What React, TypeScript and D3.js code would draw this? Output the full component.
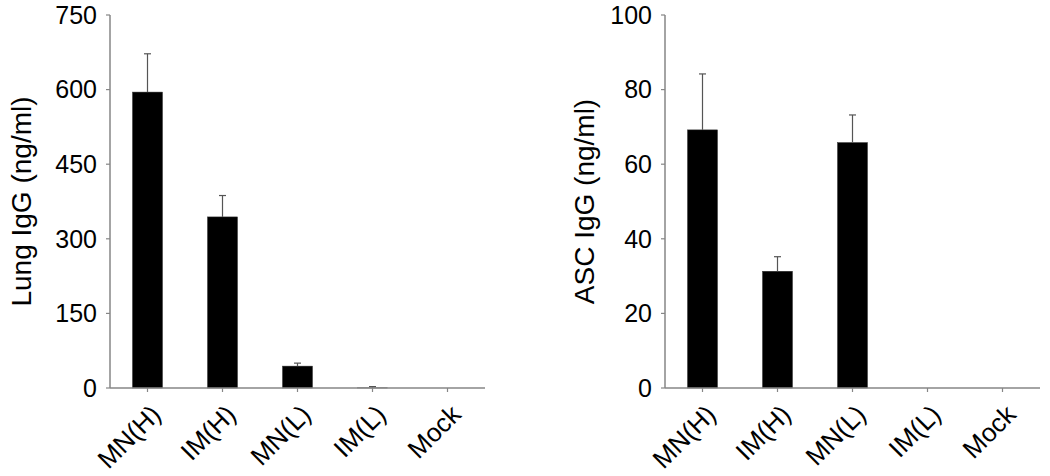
import React from 'react';
import * as d3 from 'd3';

const categories = ['MN(H)', 'IM(H)', 'MN(L)', 'IM(L)', 'Mock'];

const lungIgG = [595, 344, 44, 0.3, 0];
const lungErr = [77, 43, 6, 2.5, 0];
const lungTicks = [0, 150, 300, 450, 600, 750];

const ascIgG = [69.2, 31.3, 65.8, 0, 0];
const ascErr = [15, 3.9, 7.4, 0, 0];
const ascTicks = [0, 20, 40, 60, 80, 100];

const FONT = 'Liberation Sans, Arial, sans-serif';
const AXIS = '#868686';

type PanelProps = {
  left: number;
  values: number[];
  errors: number[];
  ticks: number[];
  title: string;
  titleX: number;
};

function Panel({ left, values, errors, ticks, title, titleX }: PanelProps) {
  const top = 15, bottom = 388, w = 375;
  const x = d3.scaleBand<string>().domain(categories).range([left, left + w]).paddingInner(0.6).paddingOuter(0.3);
  const y = d3.scaleLinear().domain([0, ticks[ticks.length - 1]]).range([bottom, top]);
  const bw = x.bandwidth();

  return (
    <g>
      {/* bars */}
      {values.map((v, i) => {
        const bx = x(categories[i])!;
        return (
          <rect key={'b' + i} x={bx} y={y(v)} width={bw} height={bottom - y(v)}
            fill="#000" stroke="#333" strokeWidth={0.5} />
        );
      })}
      {/* error bars, upper only */}
      {values.map((v, i) => {
        if (errors[i] <= 0) return null;
        const cx = x(categories[i])! + bw / 2;
        return (
          <g key={'e' + i} stroke="#555" strokeWidth={1.2}>
            <line x1={cx} x2={cx} y1={y(v)} y2={y(v + errors[i])} />
            <line x1={cx - 3.5} x2={cx + 3.5} y1={y(v + errors[i])} y2={y(v + errors[i])} />
          </g>
        );
      })}
      {/* y axis */}
      <line x1={left} x2={left} y1={top} y2={bottom} stroke={AXIS} strokeWidth={1.5} />
      {ticks.map(t => (
        <g key={'t' + t}>
          <line x1={left - 4} x2={left} y1={y(t)} y2={y(t)} stroke={AXIS} strokeWidth={1.2} />
          <text x={left - 13} y={y(t)} dy="0.35em" textAnchor="end" fontSize={25} fontFamily={FONT} fill="#000">{t}</text>
        </g>
      ))}
      {/* x axis */}
      <line x1={left} x2={left + w} y1={bottom} y2={bottom} stroke={AXIS} strokeWidth={1.5} />
      {categories.map(c => {
        const cx = x(c)! + bw / 2;
        return (
          <g key={'c' + c}>
            <line x1={cx} x2={cx} y1={bottom} y2={bottom + 4} stroke={AXIS} strokeWidth={1.2} />
            <text transform={`translate(${cx + 15},${bottom + 28}) rotate(-45)`} textAnchor="end"
              fontSize={26} fontFamily={FONT} fill="#000">{c}</text>
          </g>
        );
      })}
      <text transform={`translate(${titleX},${(top + bottom) / 2}) rotate(-90)`} textAnchor="middle"
        fontSize={28} fontFamily={FONT} fill="#000">{title}</text>
    </g>
  );
}

export default function App() {
  return (
    <svg width={1050} height={476} style={{ display: 'block', position: 'absolute', left: 0, top: 0 }}>
      <rect width={1050} height={476} fill="#fff" />
      <Panel left={110} values={lungIgG} errors={lungErr} ticks={lungTicks} title="Lung IgG (ng/ml)" titleX={31} />
      <Panel left={665} values={ascIgG} errors={ascErr} ticks={ascTicks} title="ASC IgG (ng/ml)" titleX={594} />
    </svg>
  );
}
